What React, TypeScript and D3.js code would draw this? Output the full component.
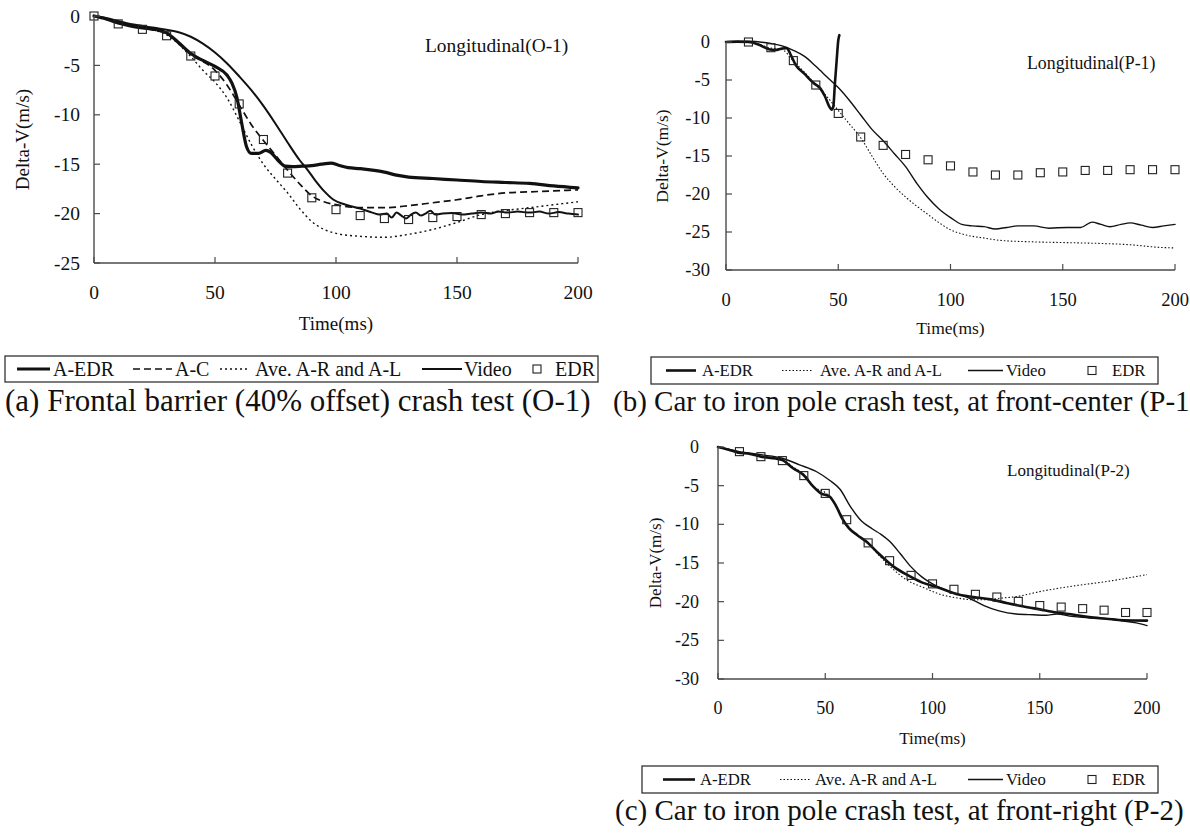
import React from "react";
import * as d3 from "d3";

type Pt = [number, number];

// ---------- tick labels ----------
const xTickValues = [0, 50, 100, 150, 200];
const yTicksA = [0, -5, -10, -15, -20, -25];
const yTicksBC = [0, -5, -10, -15, -20, -25, -30];

// ---------- legend / text labels ----------
const legendLabelsA = ["A-EDR", "A-C", "Ave. A-R and A-L", "Video", "EDR"];
const legendLabelsBC = ["A-EDR", "Ave. A-R and A-L", "Video", "EDR"];
const captionA = "(a) Frontal barrier (40% offset) crash test (O-1)";
const captionB = "(b) Car to iron pole crash test, at front-center (P-1)";
const captionC = "(c) Car to iron pole crash test, at front-right (P-2)";
const titleA = "Longitudinal(O-1)";
const titleB = "Longitudinal(P-1)";
const titleC = "Longitudinal(P-2)";

// ---------- panel (a) O-1 ----------
const edrTimesA = [0, 10, 20, 30, 40, 50, 60, 70, 80, 90, 100, 110, 120, 130, 140, 150, 160, 170, 180, 190, 200];
const edrValuesA = [0, -0.8, -1.35, -2.0, -4.05, -6.07, -8.9, -12.5, -15.9, -18.4, -19.6, -20.2, -20.5, -20.6, -20.4, -20.3, -20.1, -20.0, -19.9, -19.9, -19.9];
const aEdrA: Pt[] = [[0,0],[5,-0.3],[10,-0.7],[15,-1.0],[20,-1.2],[25,-1.35],[30,-1.7],[35,-2.7],[40,-3.8],[45,-4.5],[50,-5.1],[55,-6.0],[57,-6.8],[59,-8.2],[61,-10.8],[63,-13.2],[65,-13.9],[68,-13.9],[71,-13.6],[73,-13.8],[76,-14.6],[79,-15.2],[82,-15.25],[86,-15.2],[90,-15.15],[94,-15.0],[98,-14.9],[101,-15.1],[105,-15.35],[110,-15.45],[115,-15.6],[120,-15.8],[125,-16.1],[130,-16.3],[140,-16.45],[150,-16.6],[160,-16.75],[170,-16.85],[180,-16.95],[190,-17.2],[200,-17.4]];
const aCA: Pt[] = [[0,0],[10,-0.6],[20,-1.2],[30,-1.8],[40,-3.9],[50,-5.5],[55,-7.0],[60,-9.0],[65,-11.0],[70,-12.6],[75,-14.1],[80,-15.6],[85,-17.0],[90,-18.2],[95,-18.8],[100,-19.1],[110,-19.4],[120,-19.4],[130,-19.2],[140,-18.9],[150,-18.6],[160,-18.2],[170,-17.9],[180,-17.8],[190,-17.7],[200,-17.6]];
const aveA: Pt[] = [[0,0],[10,-0.6],[20,-1.2],[30,-1.9],[40,-4.1],[45,-5.5],[50,-6.7],[55,-8.3],[60,-10.6],[65,-13.0],[70,-15.0],[75,-16.5],[80,-17.9],[85,-19.5],[90,-20.8],[95,-21.6],[100,-22.0],[110,-22.3],[120,-22.4],[130,-22.1],[140,-21.6],[150,-20.9],[160,-20.1],[170,-19.7],[180,-19.4],[190,-19.1],[200,-18.8]];
const videoA: Pt[] = [[0,0],[5,-0.2],[10,-0.5],[15,-0.8],[20,-1.0],[25,-1.2],[30,-1.4],[35,-1.65],[40,-2.1],[45,-2.8],[50,-3.7],[55,-4.8],[60,-6.1],[65,-7.5],[70,-9.1],[75,-10.9],[80,-12.8],[85,-14.6],[88,-15.5],[91,-16.5],[95,-17.7],[99,-18.6],[104,-19.1],[110,-19.5],[115,-19.9],[118,-20.1],[121,-20.0],[123,-20.4],[125,-19.9],[127,-20.2],[129,-20.5],[131,-20.1],[133,-19.9],[135,-20.2],[137,-20.0],[139,-19.7],[141,-20.1],[144,-20.0],[148,-19.95],[152,-20.1],[156,-20.0],[160,-19.9],[164,-20.0],[167,-19.8],[171,-19.9],[175,-19.8],[180,-19.9],[184,-19.8],[188,-20.0],[192,-19.85],[196,-20.0],[200,-20.1]];

// ---------- panel (b) P-1 ----------
const edrTimesB = [10, 20, 30, 40, 50, 60, 70, 80, 90, 100, 110, 120, 130, 140, 150, 160, 170, 180, 190, 200];
const edrValuesB = [0, -0.75, -2.45, -5.66, -9.4, -12.5, -13.6, -14.8, -15.5, -16.3, -17.1, -17.5, -17.5, -17.2, -17.1, -16.9, -16.9, -16.8, -16.8, -16.8];
const aEdrB: Pt[] = [[0,0],[5,0.05],[10,0],[15,-0.4],[19,-0.95],[22,-1.05],[25,-0.85],[27,-0.8],[29,-1.8],[31,-3.0],[35,-4.2],[39,-5.4],[42,-6.1],[44,-7.1],[46,-8.5],[47,-8.9],[47.8,-8.5],[48.5,-5.5],[49.3,-2.4],[50,0.2],[50.5,0.9]];
const aveB: Pt[] = [[0,0],[10,0],[20,-0.8],[25,-1.0],[30,-2.5],[35,-4.0],[40,-5.6],[45,-7.2],[50,-9.0],[55,-10.8],[60,-12.6],[65,-15.0],[70,-17.3],[75,-19.0],[80,-20.4],[85,-21.6],[90,-22.7],[95,-23.8],[100,-24.7],[107,-25.4],[115,-25.8],[122,-26.1],[137,-26.3],[152,-26.4],[166,-26.5],[181,-26.7],[192,-27.0],[200,-27.1]];
const videoB: Pt[] = [[0,0],[10,0.1],[20,-0.2],[25,-0.5],[30,-1.1],[35,-1.9],[40,-3.2],[45,-4.6],[50,-6.0],[55,-7.7],[60,-9.6],[65,-11.5],[70,-13.0],[75,-14.7],[80,-16.4],[85,-18.6],[90,-20.5],[95,-22.0],[100,-23.1],[105,-24.0],[110,-24.2],[115,-24.3],[120,-24.6],[125,-24.4],[130,-24.2],[137,-24.2],[144,-24.5],[152,-24.4],[158,-24.4],[163,-23.7],[167,-24.0],[171,-24.3],[176,-24.0],[180,-23.8],[185,-24.1],[190,-24.4],[195,-24.2],[200,-24.0]];

// ---------- panel (c) P-2 ----------
const edrTimesC = [10, 20, 30, 40, 50, 60, 70, 80, 90, 100, 110, 120, 130, 140, 150, 160, 170, 180, 190, 200];
const edrValuesC = [-0.6, -1.25, -1.76, -3.7, -6.0, -9.4, -12.4, -14.7, -16.6, -17.7, -18.4, -19.05, -19.4, -19.96, -20.5, -20.7, -20.9, -21.1, -21.4, -21.4];
const aEdrC: Pt[] = [[0,0],[5,-0.35],[9,-0.7],[15,-0.9],[20,-1.25],[27,-1.5],[30,-1.7],[35,-2.75],[40,-3.65],[44,-5.0],[48,-6.0],[52,-6.4],[55,-7.6],[58,-9.3],[61,-10.5],[65,-11.4],[69,-12.2],[75,-13.8],[82,-15.5],[88,-16.5],[95,-17.5],[103,-18.2],[111,-19.0],[119,-19.4],[127,-19.7],[135,-20.2],[142,-20.6],[150,-21.0],[158,-21.4],[166,-21.7],[173,-22.0],[181,-22.2],[189,-22.4],[200,-22.45]];
const aveC: Pt[] = [[0,0],[10,-0.6],[20,-1.2],[30,-1.6],[35,-2.6],[40,-3.5],[45,-5.2],[50,-5.9],[55,-7.6],[60,-10.0],[65,-11.4],[70,-12.5],[75,-14.0],[82,-15.9],[88,-17.2],[96,-18.2],[103,-19.0],[111,-19.5],[119,-19.75],[125,-19.75],[130,-19.6],[140,-19.3],[150,-18.7],[165,-18.0],[181,-17.4],[200,-16.5]];
const videoC: Pt[] = [[0,0],[10,-0.6],[20,-1.0],[30,-1.45],[38,-2.3],[46,-3.2],[52,-4.3],[57,-5.5],[61.5,-7.6],[66,-9.3],[72,-10.6],[76,-11.3],[80,-12.2],[85,-13.8],[90,-15.5],[95,-16.8],[100,-17.7],[108,-18.7],[116,-19.4],[124,-20.5],[131,-21.2],[139,-21.6],[147,-21.7],[153,-21.75],[158,-21.6],[165,-21.9],[173,-22.1],[181,-22.2],[189,-22.5],[195,-22.75],[200,-23.1]];

const FONT = "'Liberation Serif', 'Times New Roman', Times, serif";
const AXIS = "#4a4a4a";
const INK = "#111";

type Kind = "thick" | "dash" | "dot" | "solid" | "square";
interface LegendItem { kind: Kind; lx0: number; lx1: number; tx: number; label: string; }
interface SeriesDef { kind: Kind; pts: Pt[]; }
interface PanelCfg {
  x0: number; x1: number; yTop: number; yBot: number; yMin: number; yTicks: number[];
  tickFont: number; yLabelRight: number; xLabelY: number;
  axisFont: number; timeY: number; deltaX: number;
  title: string; titleX: number; titleY: number; titleFont: number;
  legend: { x0: number; x1: number; y0: number; y1: number; font: number; items: LegendItem[] };
  caption: { x: number; y: number; font: number; text: string };
  thickW: number; videoW: number; dotW: number; dotDash: string; dashW: number;
  series: SeriesDef[]; edrT: number[]; edrV: number[]; sq: number;
}

function styleFor(kind: Kind, c: PanelCfg) {
  switch (kind) {
    case "thick": return { strokeWidth: c.thickW, strokeDasharray: undefined as string | undefined };
    case "dash": return { strokeWidth: c.dashW, strokeDasharray: "7,4" };
    case "dot": return { strokeWidth: c.dotW, strokeDasharray: c.dotDash };
    default: return { strokeWidth: c.videoW, strokeDasharray: undefined as string | undefined };
  }
}

function Panel({ c }: { c: PanelCfg }) {
  const x = d3.scaleLinear().domain([0, 200]).range([c.x0, c.x1]);
  const y = d3.scaleLinear().domain([0, c.yMin]).range([c.yTop, c.yBot]);
  const line = d3.line<Pt>().x((d) => x(d[0])).y((d) => y(d[1])).curve(d3.curveMonotoneX);
  const tl = 6;
  const L = c.legend;
  const lcy = (L.y0 + L.y1) / 2;
  return (
    <g fontFamily={FONT} fill={INK}>
      {/* series */}
      {c.series.map((s, i) => {
        const st = styleFor(s.kind, c);
        return (
          <path key={i} d={line(s.pts) || ""} fill="none" stroke={INK}
            strokeWidth={st.strokeWidth} strokeDasharray={st.strokeDasharray}
            strokeLinejoin="round" strokeLinecap={s.kind === "dot" || s.kind === "dash" ? "butt" : "round"} />
        );
      })}
      {c.edrT.map((t, i) => (
        <rect key={"e" + i} x={x(t) - c.sq / 2} y={y(c.edrV[i]) - c.sq / 2} width={c.sq} height={c.sq}
          fill="none" stroke="#222" strokeWidth={1.1} />
      ))}
      {/* axes */}
      <line x1={c.x0} x2={c.x0} y1={c.yTop} y2={c.yBot} stroke={AXIS} strokeWidth={1.4} />
      <line x1={c.x0} x2={c.x1} y1={c.yBot} y2={c.yBot} stroke={AXIS} strokeWidth={1.4} />
      {c.yTicks.map((v) => (
        <g key={"y" + v}>
          <line x1={c.x0} x2={c.x0 + tl} y1={y(v)} y2={y(v)} stroke={AXIS} strokeWidth={1.2} />
          <text x={c.yLabelRight} y={y(v)} textAnchor="end" dominantBaseline="central" fontSize={c.tickFont}>{v}</text>
        </g>
      ))}
      {xTickValues.map((t) => (
        <g key={"x" + t}>
          <line x1={x(t)} x2={x(t)} y1={c.yBot} y2={c.yBot - tl} stroke={AXIS} strokeWidth={1.2} />
          <text x={x(t)} y={c.xLabelY} textAnchor="middle" dominantBaseline="central" fontSize={c.tickFont}>{t}</text>
        </g>
      ))}
      <text x={(c.x0 + c.x1) / 2} y={c.timeY} textAnchor="middle" dominantBaseline="central" fontSize={c.axisFont}>Time(ms)</text>
      <text transform={`translate(${c.deltaX},${(c.yTop + c.yBot) / 2}) rotate(-90)`} textAnchor="middle"
        dominantBaseline="central" fontSize={c.axisFont}>Delta-V(m/s)</text>
      <text x={c.titleX} y={c.titleY} dominantBaseline="central" fontSize={c.titleFont}>{c.title}</text>
      {/* legend */}
      <rect x={L.x0} y={L.y0} width={L.x1 - L.x0} height={L.y1 - L.y0} fill="none" stroke="#333" strokeWidth={1.3} />
      {L.items.map((it, i) => {
        const st = styleFor(it.kind, c);
        return (
          <g key={"l" + i}>
            {it.kind === "square" ? (
              <rect x={it.lx0 - 4} y={lcy - 4} width={8} height={8} fill="none" stroke="#222" strokeWidth={1.1} />
            ) : (
              <line x1={it.lx0} x2={it.lx1} y1={lcy} y2={lcy} stroke={INK} strokeWidth={st.strokeWidth} strokeDasharray={st.strokeDasharray} />
            )}
            <text x={it.tx} y={lcy} dominantBaseline="central" fontSize={L.font}>{it.label}</text>
          </g>
        );
      })}
      <text x={c.caption.x} y={c.caption.y} fontSize={c.caption.font}>{c.caption.text}</text>
    </g>
  );
}

const panelA: PanelCfg = {
  x0: 94, x1: 578, yTop: 16, yBot: 263, yMin: -25, yTicks: yTicksA,
  tickFont: 19.5, yLabelRight: 80, xLabelY: 292, axisFont: 19, timeY: 323, deltaX: 22,
  title: titleA, titleX: 425, titleY: 45, titleFont: 19.4,
  legend: {
    x0: 5, x1: 598, y0: 356, y1: 382, font: 20,
    items: [
      { kind: "thick", lx0: 17, lx1: 50, tx: 53, label: legendLabelsA[0] },
      { kind: "dash", lx0: 133, lx1: 172, tx: 175, label: legendLabelsA[1] },
      { kind: "dot", lx0: 220, lx1: 250, tx: 255, label: legendLabelsA[2] },
      { kind: "solid", lx0: 422, lx1: 462, tx: 464, label: legendLabelsA[3] },
      { kind: "square", lx0: 537, lx1: 537, tx: 555, label: legendLabelsA[4] },
    ],
  },
  caption: { x: 5, y: 411, font: 31, text: captionA },
  thickW: 3.2, videoW: 2.0, dotW: 1.4, dotDash: "2,3", dashW: 1.7,
  series: [
    { kind: "dot", pts: aveA }, { kind: "dash", pts: aCA },
    { kind: "solid", pts: videoA }, { kind: "thick", pts: aEdrA },
  ],
  edrT: edrTimesA, edrV: edrValuesA, sq: 8,
};

const panelB: PanelCfg = {
  x0: 726, x1: 1175, yTop: 42, yBot: 270, yMin: -30, yTicks: yTicksBC,
  tickFont: 18.5, yLabelRight: 710, xLabelY: 300, axisFont: 17.5, timeY: 328, deltaX: 662,
  title: titleB, titleX: 1027, titleY: 63, titleFont: 17.8,
  legend: {
    x0: 651, x1: 1158, y0: 357, y1: 384, font: 16.7,
    items: [
      { kind: "thick", lx0: 666, lx1: 696, tx: 702, label: legendLabelsBC[0] },
      { kind: "dot", lx0: 782, lx1: 813, tx: 820, label: legendLabelsBC[1] },
      { kind: "solid", lx0: 968, lx1: 1003, tx: 1006, label: legendLabelsBC[2] },
      { kind: "square", lx0: 1092, lx1: 1092, tx: 1112, label: legendLabelsBC[3] },
    ],
  },
  caption: { x: 613, y: 411, font: 29, text: captionB },
  thickW: 2.6, videoW: 1.4, dotW: 1.1, dotDash: "1.5,2", dashW: 1.5,
  series: [
    { kind: "dot", pts: aveB }, { kind: "solid", pts: videoB }, { kind: "thick", pts: aEdrB },
  ],
  edrT: edrTimesB, edrV: edrValuesB, sq: 8,
};

const panelC: PanelCfg = {
  x0: 718, x1: 1147, yTop: 447, yBot: 679, yMin: -30, yTicks: yTicksBC,
  tickFont: 18, yLabelRight: 699, xLabelY: 708, axisFont: 17, timeY: 738, deltaX: 655,
  title: titleC, titleX: 1007, titleY: 470, titleFont: 17,
  legend: {
    x0: 642, x1: 1158, y0: 766, y1: 793, font: 16.7,
    items: [
      { kind: "thick", lx0: 663, lx1: 695, tx: 700, label: legendLabelsBC[0] },
      { kind: "dot", lx0: 780, lx1: 810, tx: 815, label: legendLabelsBC[1] },
      { kind: "solid", lx0: 968, lx1: 1003, tx: 1006, label: legendLabelsBC[2] },
      { kind: "square", lx0: 1092, lx1: 1092, tx: 1112, label: legendLabelsBC[3] },
    ],
  },
  caption: { x: 615, y: 820, font: 29, text: captionC },
  thickW: 2.6, videoW: 1.4, dotW: 1.1, dotDash: "1.5,2", dashW: 1.5,
  series: [
    { kind: "dot", pts: aveC }, { kind: "solid", pts: videoC }, { kind: "thick", pts: aEdrC },
  ],
  edrT: edrTimesC, edrV: edrValuesC, sq: 8,
};

export default function App() {
  return (
    <svg width={1190} height={837} viewBox="0 0 1190 837"
      style={{ position: "fixed", left: 0, top: 0, background: "#fff", display: "block" }}>
      <rect x={0} y={0} width={1190} height={837} fill="#fff" />
      <Panel c={panelA} />
      <Panel c={panelB} />
      <Panel c={panelC} />
    </svg>
  );
}
